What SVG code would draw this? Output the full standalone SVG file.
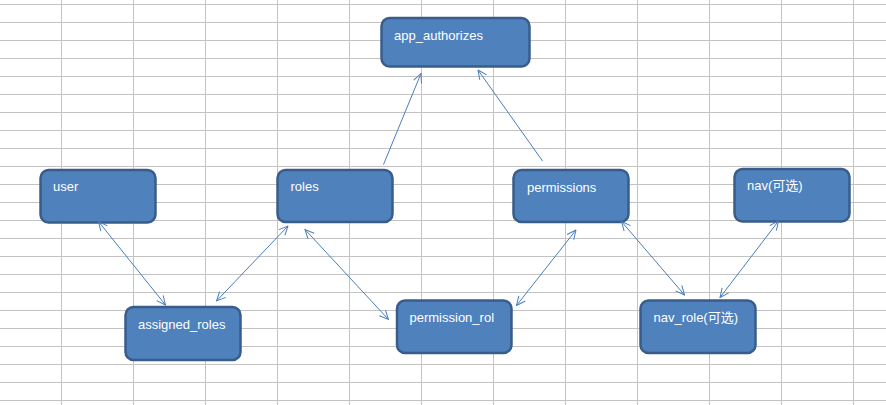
<svg xmlns="http://www.w3.org/2000/svg" width="886" height="405" viewBox="0 0 886 405">
<defs>
<style>
.grid line{stroke:#c3c3c3;stroke-width:1}
.box{fill:#4f81bd;stroke:#385d8a;stroke-width:2.5}
.lbl{fill:#ffffff;font-family:"Liberation Sans","Noto Sans CJK SC",sans-serif;font-size:13px}
.conn line{stroke:#4a7ebb;stroke-width:1;fill:none}
</style>
<marker id="ah" viewBox="0 0 10 10" refX="9.5" refY="5" markerWidth="10" markerHeight="10" markerUnits="userSpaceOnUse" orient="auto-start-reverse">
<path d="M0.5,0.8 L9.5,5 L0.5,9.2" fill="none" stroke="#4a7ebb" stroke-width="1"/>
</marker>
</defs>
<rect width="886" height="405" fill="#ffffff"/>
<g class="grid">
<line x1="0" y1="4.5" x2="886" y2="4.5"/>
<line x1="0" y1="22.5" x2="886" y2="22.5"/>
<line x1="0" y1="40.5" x2="886" y2="40.5"/>
<line x1="0" y1="58.5" x2="886" y2="58.5"/>
<line x1="0" y1="76.5" x2="886" y2="76.5"/>
<line x1="0" y1="94.5" x2="886" y2="94.5"/>
<line x1="0" y1="112.5" x2="886" y2="112.5"/>
<line x1="0" y1="130.5" x2="886" y2="130.5"/>
<line x1="0" y1="148.5" x2="886" y2="148.5"/>
<line x1="0" y1="166.5" x2="886" y2="166.5"/>
<line x1="0" y1="184.5" x2="886" y2="184.5"/>
<line x1="0" y1="202.5" x2="886" y2="202.5"/>
<line x1="0" y1="220.5" x2="886" y2="220.5"/>
<line x1="0" y1="238.5" x2="886" y2="238.5"/>
<line x1="0" y1="256.5" x2="886" y2="256.5"/>
<line x1="0" y1="274.5" x2="886" y2="274.5"/>
<line x1="0" y1="292.5" x2="886" y2="292.5"/>
<line x1="0" y1="310.5" x2="886" y2="310.5"/>
<line x1="0" y1="328.5" x2="886" y2="328.5"/>
<line x1="0" y1="346.5" x2="886" y2="346.5"/>
<line x1="0" y1="364.5" x2="886" y2="364.5"/>
<line x1="0" y1="382.5" x2="886" y2="382.5"/>
<line x1="0" y1="400.5" x2="886" y2="400.5"/>
<line x1="61.5" y1="0" x2="61.5" y2="405"/>
<line x1="133.5" y1="0" x2="133.5" y2="405"/>
<line x1="205.5" y1="0" x2="205.5" y2="405"/>
<line x1="277.5" y1="0" x2="277.5" y2="405"/>
<line x1="349.5" y1="0" x2="349.5" y2="405"/>
<line x1="421.5" y1="0" x2="421.5" y2="405"/>
<line x1="493.5" y1="0" x2="493.5" y2="405"/>
<line x1="565.5" y1="0" x2="565.5" y2="405"/>
<line x1="637.5" y1="0" x2="637.5" y2="405"/>
<line x1="709.5" y1="0" x2="709.5" y2="405"/>
<line x1="781.5" y1="0" x2="781.5" y2="405"/>
<line x1="853.5" y1="0" x2="853.5" y2="405"/>
</g>
<g id="app_authorizes">
<rect class="box" x="381.5" y="18" width="148" height="48.5" rx="8"/>
<text class="lbl" x="394" y="40">app_authorizes</text>
</g>
<g id="user">
<rect class="box" x="40.5" y="170" width="115" height="52.5" rx="8"/>
<text class="lbl" x="53" y="191">user</text>
</g>
<g id="roles">
<rect class="box" x="277.5" y="170" width="115" height="52" rx="8"/>
<text class="lbl" x="290.5" y="191">roles</text>
</g>
<g id="permissions">
<rect class="box" x="513.5" y="170" width="115" height="52" rx="8"/>
<text class="lbl" x="527" y="192">permissions</text>
</g>
<g id="nav">
<rect class="box" x="734.5" y="169" width="115" height="52.5" rx="8"/>
<text class="lbl" x="747" y="190">nav(可选)</text>
</g>
<g id="assigned_roles">
<rect class="box" x="125.5" y="307" width="115" height="53" rx="8"/>
<text class="lbl" x="138" y="329">assigned_roles</text>
</g>
<g id="permission_rol">
<rect class="box" x="397" y="300.5" width="114.5" height="52.5" rx="8"/>
<text class="lbl" x="409.5" y="322">permission_rol</text>
</g>
<g id="nav_role">
<rect class="box" x="640.5" y="300.5" width="115" height="52.5" rx="8"/>
<text class="lbl" x="653.5" y="322">nav_role(可选)</text>
</g>
<g class="conn">
<line x1="383.5" y1="164.5" x2="421" y2="73.5" marker-end="url(#ah)"/>
<line x1="542.5" y1="161" x2="478" y2="70" marker-end="url(#ah)"/>
<line x1="98.5" y1="221.5" x2="165.5" y2="305" marker-start="url(#ah)" marker-end="url(#ah)"/>
<line x1="288" y1="226" x2="216.5" y2="301" marker-start="url(#ah)" marker-end="url(#ah)"/>
<line x1="305" y1="229.5" x2="388.5" y2="319.5" marker-start="url(#ah)" marker-end="url(#ah)"/>
<line x1="576" y1="230" x2="516.5" y2="305.5" marker-start="url(#ah)" marker-end="url(#ah)"/>
<line x1="621.5" y1="221.5" x2="684.5" y2="295" marker-start="url(#ah)" marker-end="url(#ah)"/>
<line x1="778.5" y1="221" x2="720" y2="297.5" marker-start="url(#ah)" marker-end="url(#ah)"/>
</g>
</svg>
